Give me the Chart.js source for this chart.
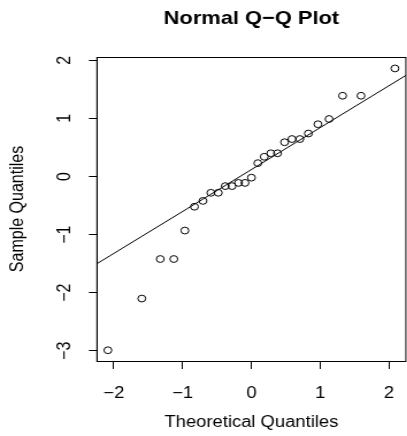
<!DOCTYPE html>
<html>
<head>
<meta charset="utf-8">
<script src="https://cdn.jsdelivr.net/npm/chart.js@4.4.1/dist/chart.umd.min.js"></script>
<style>
  html, body { margin: 0; padding: 0; background: #fff; overflow: hidden; }
  #wrap { width: 407px; height: 436px; overflow: hidden; }
  /* the reference is a little wider than tall, so stretch the whole drawing */
  #stretch { transform: scaleX(1.15); transform-origin: 0 0; width: 358px; height: 436px; }
</style>
</head>
<body>
<div id="wrap"><div id="stretch"><canvas id="qq" width="358" height="436"></canvas></div></div>
<script>
// theoretical quantiles (x) and sample quantiles (y)
const theoretical = [-2.086, -1.593, -1.325, -1.128, -0.967, -0.828, -0.704, -0.589, -0.482,
  -0.380, -0.282, -0.187, -0.093, 0, 0.093, 0.187, 0.282, 0.380, 0.482, 0.589, 0.704,
  0.828, 0.967, 1.128, 1.325, 1.593, 2.086];
const sample = [-2.99, -2.10, -1.42, -1.42, -0.93, -0.52, -0.42, -0.28, -0.28, -0.165,
  -0.165, -0.11, -0.11, -0.02, 0.23, 0.34, 0.40, 0.40, 0.59, 0.645, 0.645, 0.74, 0.90,
  0.99, 1.39, 1.39, 1.86];

// reference line end points
const lineX = [-2.3, 2.3];
const lineY = [-1.54, 1.78];

const xTicks = [-2, -1, 0, 1, 2];
const yTicks = [-3, -2, -1, 0, 1, 2];

const FONT = '"Liberation Sans", Arial, Helvetica, sans-serif';
const minus = v => String(v).replace('-', '\u2212');

const boxPlugin = {
  id: 'box',
  afterDraw(chart) {
    const a = chart.chartArea;
    const c = chart.ctx;
    c.save();
    c.strokeStyle = '#000';
    c.lineWidth = 1;
    c.strokeRect(a.left, Math.round(a.top) + 0.5, a.right - a.left, Math.round(a.bottom - a.top));
    c.restore();
  }
};

new Chart(document.getElementById('qq'), {
  type: 'scatter',
  data: {
    datasets: [
      {
        label: 'sample',
        data: theoretical.map((x, i) => ({ x: x, y: sample[i] })),
        pointStyle: 'circle',
        pointRadius: 3.4,
        pointBorderWidth: 1,
        pointBorderColor: '#000',
        pointBackgroundColor: 'rgba(0,0,0,0)',
        showLine: false,
      },
      {
        label: 'qqline',
        data: lineX.map((x, i) => ({ x: x, y: lineY[i] })),
        showLine: true,
        borderColor: '#000',
        borderWidth: 1,
        pointRadius: 0,
      },
    ],
  },
  options: {
    responsive: false,
    animation: false,
    events: [],
    layout: { padding: { left: 0, right: 2.3, top: 0, bottom: 0 } },
    plugins: {
      legend: { display: false },
      tooltip: { enabled: false },
      title: {
        display: true,
        fullSize: false,
        text: 'Normal Q\u2212Q Plot',
        color: '#000',
        font: { family: FONT, size: 19, weight: 'bold' },
        padding: { top: 7, bottom: 27.2 },
      },
    },
    scales: {
      x: {
        type: 'linear',
        min: -2.245,
        max: 2.245,
        afterFit(scale) { scale.height = 75; },
        afterBuildTicks(scale) { scale.ticks = xTicks.map(v => ({ value: v })); },
        grid: { drawOnChartArea: false, drawTicks: true, tickLength: 8, tickColor: '#000' },
        border: { display: true, color: '#000' },
        ticks: {
          color: '#000',
          font: { family: FONT, size: 16 },
          padding: 15,
          maxRotation: 0,
          callback: v => minus(v),
        },
        title: {
          display: true,
          text: 'Theoretical Quantiles',
          color: '#000',
          font: { family: FONT, size: 16 },
          padding: { top: 0, bottom: 3.4 },
        },
      },
      y: {
        type: 'linear',
        min: -3.175,
        max: 2.057,
        afterFit(scale) { scale.width = 84.3; },
        afterBuildTicks(scale) { scale.ticks = yTicks.map(v => ({ value: v })); },
        grid: { drawOnChartArea: false, drawTicks: true, tickLength: 7, tickColor: '#000' },
        border: { display: true, color: '#000' },
        ticks: {
          color: '#000',
          font: { family: FONT, size: 16 },
          padding: 11.7,
          minRotation: 90,
          maxRotation: 90,
          crossAlign: 'center',
          callback: v => minus(v),
        },
        title: {
          display: true,
          text: 'Sample Quantiles',
          color: '#000',
          font: { family: FONT, size: 16 },
          padding: { top: 6, bottom: 0 },
        },
      },
    },
  },
  plugins: [boxPlugin],
});
</script>
</body>
</html>
